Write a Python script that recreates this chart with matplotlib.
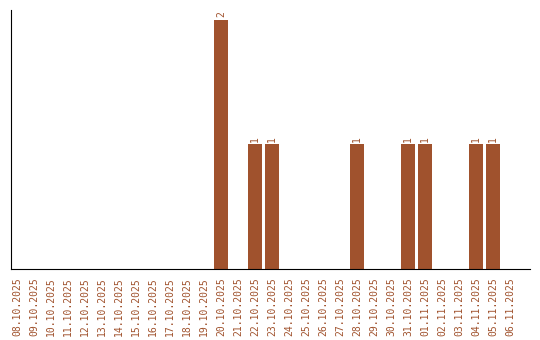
import matplotlib.pyplot as plt

dates = ["08.10.2025", "09.10.2025", "10.10.2025", "11.10.2025", "12.10.2025",
         "13.10.2025", "14.10.2025", "15.10.2025", "16.10.2025", "17.10.2025",
         "18.10.2025", "19.10.2025", "20.10.2025", "21.10.2025", "22.10.2025",
         "23.10.2025", "24.10.2025", "25.10.2025", "26.10.2025", "27.10.2025",
         "28.10.2025", "29.10.2025", "30.10.2025", "31.10.2025", "01.11.2025",
         "02.11.2025", "03.11.2025", "04.11.2025", "05.11.2025", "06.11.2025"]
counts = [0, 0, 0, 0, 0, 0, 0, 0, 0, 0, 0, 0, 2, 0, 1,
          1, 0, 0, 0, 0, 1, 0, 0, 1, 1, 0, 0, 1, 1, 0]

color = "#a0522d"

fig = plt.figure(figsize=(5.4, 3.4), dpi=100)
ax = fig.add_axes([0.0204, 0.2088, 0.9611, 0.7618])

x = list(range(len(dates)))
bars = ax.bar(x, counts, width=0.82, color=color)

# value labels above bars
for xi, c in zip(x, counts):
    if c > 0:
        ax.text(xi, c + 0.02, str(c), rotation=90, ha="center", va="bottom",
                fontsize=7, family="DejaVu Sans Mono", color=color)

ax.set_xlim(-0.35, 30.18)
ax.set_ylim(0, 2.08)
ax.set_xticks(x)
ax.set_xticklabels(dates, rotation=90, fontsize=7, family="DejaVu Sans Mono",
                   color=color)
ax.tick_params(axis="x", length=0, pad=6)
ax.set_yticks([])
ax.spines["top"].set_visible(False)
ax.spines["right"].set_visible(False)

fig.savefig("out.png", dpi=100)
